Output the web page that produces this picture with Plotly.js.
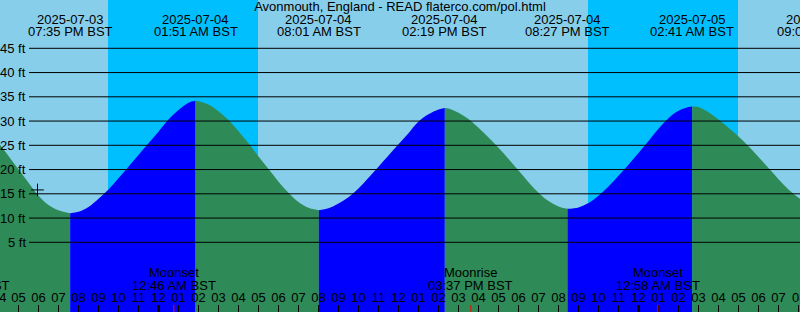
<!DOCTYPE html>
<html>
<head>
<meta charset="utf-8">
<script src="https://cdn.plot.ly/plotly-3.0.1.min.js"></script>
<style>html,body{margin:0;padding:0;background:#87CEEB;}#chart{width:800px;height:312px;}</style>
</head>
<body>
<div id="chart"></div>
<script>
// ---- data ----
const chartTitle = "Avonmouth, England - READ flaterco.com/pol.html";
const viewStart = "2025-07-03 16:04:30";
const viewEnd = "2025-07-05 08:04:30";

const tideTimes = [
  "2025-07-03 16:00","2025-07-03 16:30","2025-07-03 17:00","2025-07-03 17:30","2025-07-03 18:00","2025-07-03 18:30","2025-07-03 19:00","2025-07-03 19:35",
  "2025-07-03 20:00","2025-07-03 20:30","2025-07-03 21:00","2025-07-03 21:30","2025-07-03 22:00","2025-07-03 22:30","2025-07-03 23:00","2025-07-03 23:30",
  "2025-07-04 00:00","2025-07-04 00:30","2025-07-04 01:00","2025-07-04 01:30","2025-07-04 01:51",
  "2025-07-04 02:00","2025-07-04 02:30","2025-07-04 03:00","2025-07-04 03:30","2025-07-04 04:00","2025-07-04 04:30","2025-07-04 05:00","2025-07-04 05:30",
  "2025-07-04 06:00","2025-07-04 06:30","2025-07-04 07:00","2025-07-04 07:30","2025-07-04 08:01",
  "2025-07-04 08:30","2025-07-04 09:00","2025-07-04 09:30","2025-07-04 10:00","2025-07-04 10:30","2025-07-04 11:00","2025-07-04 11:30","2025-07-04 12:00",
  "2025-07-04 12:30","2025-07-04 13:00","2025-07-04 13:30","2025-07-04 14:00","2025-07-04 14:19",
  "2025-07-04 14:30","2025-07-04 15:00","2025-07-04 15:30","2025-07-04 16:00","2025-07-04 16:30","2025-07-04 17:00","2025-07-04 17:30","2025-07-04 18:00",
  "2025-07-04 18:30","2025-07-04 19:00","2025-07-04 19:30","2025-07-04 20:00","2025-07-04 20:27",
  "2025-07-04 21:00","2025-07-04 21:30","2025-07-04 22:00","2025-07-04 22:30","2025-07-04 23:00","2025-07-04 23:30",
  "2025-07-05 00:00","2025-07-05 00:30","2025-07-05 01:00","2025-07-05 01:30","2025-07-05 02:00","2025-07-05 02:30","2025-07-05 02:41",
  "2025-07-05 03:00","2025-07-05 03:30","2025-07-05 04:00","2025-07-05 04:30","2025-07-05 05:00","2025-07-05 05:30","2025-07-05 06:00",
  "2025-07-05 06:30","2025-07-05 07:00","2025-07-05 07:30","2025-07-05 08:00","2025-07-05 08:30","2025-07-05 09:02"
];
const tideFeet = [
  25.5,22.8,20.0,17.3,14.6,12.7,11.6,11.0,
  11.3,12.3,14.0,15.9,18.2,20.6,23.0,25.4,
  27.8,30.3,32.3,33.8,34.2,
  34.1,33.4,32.0,30.2,27.9,25.4,22.7,20.1,
  17.5,15.2,13.3,12.1,11.6,
  12.0,13.0,14.3,16.1,18.3,20.6,22.9,25.2,
  27.5,29.9,31.4,32.4,32.7,
  32.6,31.7,30.4,28.6,26.6,24.5,22.2,19.8,
  17.4,15.2,13.5,12.4,11.9,
  12.2,13.1,14.6,16.5,18.7,21.0,
  23.4,25.9,28.4,30.6,32.1,32.9,33.0,
  32.9,31.8,30.3,28.6,26.8,24.8,22.6,
  20.3,18.0,15.9,14.2,12.9,12.0
];

const extremeTimes = ["2025-07-03 19:35","2025-07-04 01:51","2025-07-04 08:01","2025-07-04 14:19","2025-07-04 20:27","2025-07-05 02:41","2025-07-05 09:02"];
const extremeDates = ["2025-07-03","2025-07-04","2025-07-04","2025-07-04","2025-07-04","2025-07-05","2025-07-05"];
const extremeClock = ["07:35 PM BST","01:51 AM BST","08:01 AM BST","02:19 PM BST","08:27 PM BST","02:41 AM BST","09:02 AM BST"];

const moonTimes = ["2025-07-03 14:26","2025-07-04 00:46","2025-07-04 15:37","2025-07-05 00:58"];
const moonEvents = ["Moonrise","Moonset","Moonrise","Moonset"];
const moonClock = ["02:26 PM BST","12:46 AM BST","03:37 PM BST","12:58 AM BST"];

const sunsetTimes = ["2025-07-03 21:28:30","2025-07-04 21:28:30"];
const sunriseTimes = ["2025-07-04 04:58:30","2025-07-05 04:58:30"];

const midnights = ["2025-07-04 00:00","2025-07-05 00:00"];
const heightLevels = [5,10,15,20,25,30,35,40,45];
// hour labels at the two edges, only partly visible in the reference
const edgeHourTimes = ["2025-07-03 16:00","2025-07-05 08:00"];
const edgeHourText = ["04","08"];

const nowTime = ["2025-07-03 17:57"];
const nowFeet = [15.8];

// ---- styling ----
const DAY = "#87CEEB", NIGHT = "#00BFFF", RISE = "#0000FF", FALL = "#2E8B57";
const FONT = {family: "Liberation Sans, Arial, sans-serif", size: 13, color: "#000"};
const H = 312;
const yRange = [-9.37, 54.96];
const py = p => 1 - p / H;   // pixel row -> paper fraction
const t0 = Date.parse(viewStart.replace(" ", "T")), t1 = Date.parse(viewEnd.replace(" ", "T"));
const frac = t => (Date.parse(t.replace(" ", "T")) - t0) / (t1 - t0);

// ---- traces: split tide into rising / falling stretches at each extreme ----
const traces = [];
const cuts = [0];
tideTimes.forEach((t, i) => { if (extremeTimes.includes(t)) cuts.push(i); });
if (cuts[cuts.length - 1] !== tideTimes.length - 1) cuts.push(tideTimes.length - 1);
for (let k = 0; k < cuts.length - 1; k++) {
  const a = cuts[k], b = cuts[k + 1];
  const xs = tideTimes.slice(a, b + 1), ys = tideFeet.slice(a, b + 1);
  const rising = ys[ys.length - 1] > ys[0];
  traces.push({x: [xs[0], xs[xs.length - 1]], y: [-40, -40], mode: "lines", line: {width: 0}, hoverinfo: "skip", showlegend: false});
  traces.push({x: xs, y: ys, mode: "lines", line: {width: 0, shape: "spline", smoothing: 1}, fill: "tonexty",
    fillcolor: rising ? RISE : FALL, hoverinfo: "skip", showlegend: false});
}
traces.push({x: nowTime, y: nowFeet, mode: "markers", marker: {symbol: "cross-thin", size: 9, line: {color: "#000", width: 1}}, showlegend: false, hoverinfo: "skip"});

// ---- shapes ----
const shapes = [];
sunsetTimes.forEach((s, i) => shapes.push({type: "rect", xref: "x", yref: "paper", x0: s, x1: sunriseTimes[i], y0: 0, y1: 1, fillcolor: NIGHT, line: {width: 0}, layer: "below"}));
heightLevels.forEach(v => shapes.push({type: "line", xref: "paper", yref: "y", x0: 29 / 800, x1: 1, y0: v, y1: v, line: {color: "#000", width: 1}, layer: "above"}));
midnights.forEach(m => shapes.push({type: "line", xref: "x", yref: "paper", x0: m, x1: m, y0: 0, y1: 7 / H, line: {color: "#000", width: 3}, layer: "above"}));
moonTimes.forEach(m => shapes.push({type: "line", xref: "x", yref: "paper", x0: m, x1: m, y0: 0, y1: 7 / H, line: {color: "#FF0000", width: 1}, layer: "above"}));

// ---- annotations ----
const ann = [];
heightLevels.forEach(v => ann.push({xref: "paper", yref: "y", x: 28 / 800, y: v, xanchor: "right", yanchor: "middle", text: v + " ft", showarrow: false, font: FONT}));
extremeTimes.forEach((t, i) => {
  const f = frac(t);
  const base = {xref: "paper", x: f, xanchor: "center", yanchor: "middle", yref: "paper", showarrow: false, font: FONT};
  ann.push(Object.assign({}, base, {y: py(19.5), text: extremeDates[i]}));
  ann.push(Object.assign({}, base, {y: py(31.5), text: extremeClock[i]}));
});
moonTimes.forEach((t, i) => {
  const f = frac(t);
  const base = {xref: "paper", x: f, xanchor: "center", yanchor: "middle", yref: "paper", showarrow: false, font: FONT};
  ann.push(Object.assign({}, base, {y: py(272.5), text: moonEvents[i]}));
  ann.push(Object.assign({}, base, {y: py(285.5), text: moonClock[i]}));
});
edgeHourTimes.forEach((t, i) => ann.push({xref: "paper", yref: "paper", x: frac(t), y: py(297), xanchor: "center", yanchor: "middle", text: edgeHourText[i], showarrow: false, font: FONT}));

const layout = {
  width: 800, height: 312,
  margin: {l: 0, r: 0, t: 0, b: 0, pad: 0},
  paper_bgcolor: DAY, plot_bgcolor: DAY,
  font: FONT,
  title: {text: chartTitle, x: 0.5, xanchor: "center", y: py(6.5), yanchor: "middle", yref: "paper", font: FONT},
  showlegend: false,
  xaxis: {type: "date", range: [viewStart, viewEnd], showgrid: false, zeroline: false, showline: false,
    tick0: "2025-07-03 00:00", dtick: 3600000, tickformat: "%I", ticks: "inside", ticklen: 7, tickwidth: 1, tickcolor: "#000",
    ticklabelposition: "inside", tickfont: FONT, fixedrange: true},
  yaxis: {range: yRange, showgrid: false, zeroline: false, showticklabels: false, ticks: "", fixedrange: true},
  shapes: shapes,
  annotations: ann
};

Plotly.newPlot("chart", traces, layout, {staticPlot: true, displayModeBar: false});
</script>
</body>
</html>
